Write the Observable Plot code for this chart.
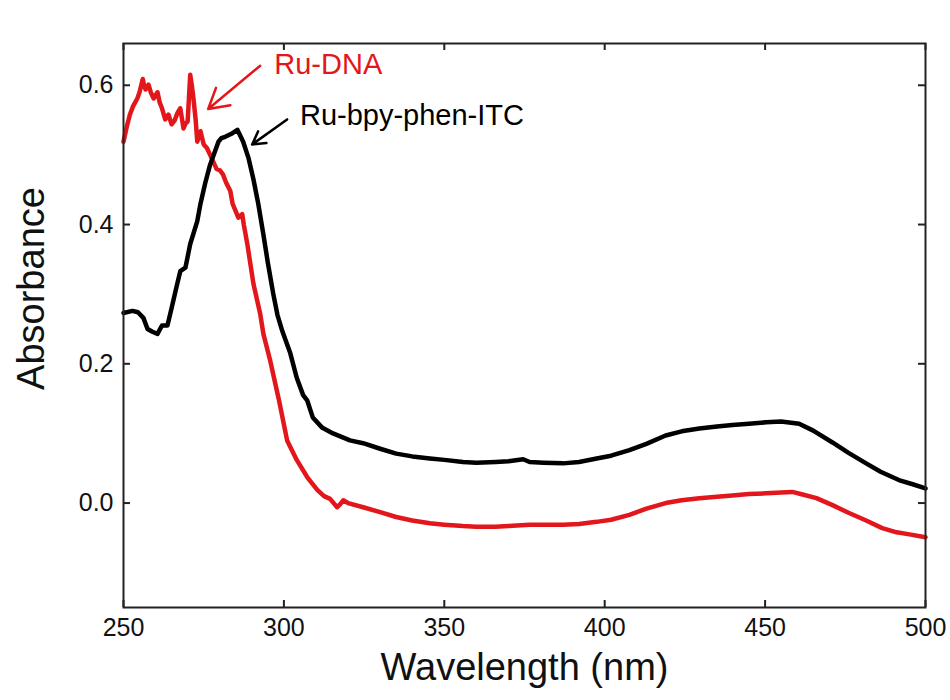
<!DOCTYPE html>
<html>
<head>
<meta charset="utf-8">
<script src="https://cdn.jsdelivr.net/npm/d3@7"></script>
<script src="https://cdn.jsdelivr.net/npm/@observablehq/plot@0.6"></script>
<style>
  html, body { margin: 0; padding: 0; background: #fff; }
</style>
</head>
<body>
<div id="chart"></div>
<script>
// ---- Data ----
const blackWl = [250, 252.8, 254.5, 256.2, 257.5, 259, 260.6, 262, 263.7, 265, 266.5, 267.7, 269.3, 270.8, 273, 274, 275.5, 277, 279.6, 280.5, 281.7, 283.5, 285.5, 287.3, 289, 290.5, 292, 293.6, 295, 296.7, 298, 299.5, 302, 304, 306, 307.3, 309, 312, 315.3, 320.6, 324.7, 330, 335, 340, 345.5, 350, 355.8, 360, 366, 370, 374.6, 376.6, 381, 387, 392, 397.5, 402, 407.7, 413, 419, 424, 429.5, 435, 439.8, 445, 450.3, 455, 460.6, 465, 471, 476, 481.5, 486, 491.7, 496, 500];
const blackAbs = [0.273, 0.276, 0.274, 0.266, 0.25, 0.246, 0.243, 0.255, 0.255, 0.28, 0.31, 0.333, 0.338, 0.372, 0.405, 0.43, 0.46, 0.486, 0.519, 0.524, 0.526, 0.53, 0.536, 0.519, 0.495, 0.465, 0.43, 0.386, 0.345, 0.30, 0.27, 0.247, 0.215, 0.18, 0.155, 0.147, 0.123, 0.108, 0.10, 0.09, 0.086, 0.078, 0.071, 0.067, 0.064, 0.062, 0.059, 0.058, 0.059, 0.060, 0.063, 0.059, 0.058, 0.057, 0.059, 0.064, 0.068, 0.076, 0.085, 0.097, 0.103, 0.107, 0.11, 0.112, 0.114, 0.116, 0.117, 0.114, 0.104, 0.087, 0.072, 0.057, 0.045, 0.033, 0.027, 0.021];

const redWl = [250, 251, 252, 253, 254.3, 255, 256, 256.5, 256.9, 257.8, 258.5, 259.4, 260.6, 261.3, 262, 263, 264, 265, 266, 266.8, 267.7, 268.7, 269.3, 270, 270.5, 270.8, 271.3, 271.8, 272.5, 273, 274, 275, 276, 277, 278, 279, 280, 281, 282, 283.3, 284, 285.8, 287, 287.5, 288.6, 290.5, 292.6, 293.6, 295.7, 298.5, 301, 304, 307.3, 310.4, 312.5, 314.4, 316.6, 317.5, 318.5, 320, 324.7, 330, 335, 340, 345.5, 350, 355.8, 360, 366, 370, 376.6, 381, 387, 392, 397.5, 402, 407.7, 413, 419, 424, 429.5, 435, 439.8, 445, 450.3, 455, 458.5, 462, 466, 471, 476, 481.5, 486.5, 491, 495, 500];
const redAbs = [0.519, 0.54, 0.558, 0.57, 0.581, 0.59, 0.609, 0.598, 0.594, 0.601, 0.59, 0.581, 0.59, 0.575, 0.567, 0.551, 0.558, 0.544, 0.55, 0.56, 0.567, 0.538, 0.545, 0.548, 0.59, 0.615, 0.6, 0.581, 0.55, 0.519, 0.534, 0.515, 0.51, 0.50, 0.49, 0.48, 0.478, 0.472, 0.46, 0.448, 0.43, 0.41, 0.415, 0.40, 0.372, 0.315, 0.272, 0.243, 0.205, 0.147, 0.09, 0.062, 0.037, 0.019, 0.010, 0.006, -0.006, -0.002, 0.004, 0.0, -0.006, -0.013, -0.02, -0.025, -0.029, -0.031, -0.033, -0.034, -0.034, -0.033, -0.031, -0.031, -0.031, -0.03, -0.027, -0.024, -0.017, -0.008, 0.0, 0.004, 0.007, 0.009, 0.011, 0.013, 0.014, 0.015, 0.016, 0.012, 0.007, -0.003, -0.014, -0.025, -0.036, -0.042, -0.045, -0.049];

const xTicks = [250, 300, 350, 400, 450, 500];
const yTicks = [0.0, 0.2, 0.4, 0.6];

const labelText = ["Ru-DNA", "Ru-bpy-phen-ITC"];
const labelX = [297, 305];
const labelY = [0.629, 0.556];
const labelColor = ["#e3161b", "#000000"];

const arrowX1 = [292.6, 301.0];
const arrowY1 = [0.628, 0.551];
const arrowX2 = [276.4, 290.1];
const arrowY2 = [0.566, 0.515];

// ---- Build tables ----
const black = blackWl.map((w, i) => ({wl: w, abs: blackAbs[i]}));
const red = redWl.map((w, i) => ({wl: w, abs: redAbs[i]}));
const labels = labelText.map((t, i) => ({t, x: labelX[i], y: labelY[i], c: labelColor[i]}));
const arrows = arrowX1.map((x1, i) => ({x1, y1: arrowY1[i], x2: arrowX2[i], y2: arrowY2[i], c: labelColor[i]}));

const font = "'Liberation Sans', Arial, Helvetica, sans-serif";
const W = 950, H = 700, mL = 123, mR = 25, mT = 43, mB = 93;
const fw = W - mL - mR, fh = H - mT - mB, tk = 7;

const chart = Plot.plot({
  width: W,
  height: H,
  marginLeft: mL,
  marginRight: mR,
  marginTop: mT,
  marginBottom: mB,
  style: {fontFamily: font, fontSize: "25px", background: "#fff", color: "#111"},
  x: {domain: [250, 500]},
  y: {domain: [-0.15, 0.66]},
  marks: [
    Plot.line(red, {x: "wl", y: "abs", stroke: "#e3161b", strokeWidth: 4.5, strokeLinejoin: "round"}),
    Plot.line(black, {x: "wl", y: "abs", stroke: "#000", strokeWidth: 4.5, strokeLinejoin: "round"}),
    // inward ticks on all four sides
    Plot.ruleX(xTicks, {x: d => d, insetTop: fh - tk, stroke: "#222", strokeWidth: 2}),
    Plot.ruleX(xTicks, {x: d => d, insetBottom: fh - tk, stroke: "#222", strokeWidth: 2}),
    Plot.ruleY(yTicks, {y: d => d, insetRight: fw - tk, stroke: "#222", strokeWidth: 2}),
    Plot.ruleY(yTicks, {y: d => d, insetLeft: fw - tk, stroke: "#222", strokeWidth: 2}),
    Plot.frame({stroke: "#222", strokeWidth: 2}),
    Plot.axisX({anchor: "bottom", ticks: xTicks, tickSize: 0, tickPadding: 11, tickFormat: d3.format("d"), label: null}),
    Plot.axisY({anchor: "left", ticks: yTicks, tickSize: 0, tickPadding: 10, tickFormat: d3.format(".1f"), label: null}),
    Plot.arrow(arrows, {x1: "x1", y1: "y1", x2: "x2", y2: "y2", stroke: "c", strokeWidth: 2.5, headLength: 14, headAngle: 60}),
    Plot.text(labels, {x: "x", y: "y", text: "t", fill: "c", textAnchor: "start", fontSize: 29}),
    Plot.text(["Wavelength (nm)"], {frameAnchor: "bottom", lineAnchor: "bottom", textAnchor: "middle", dy: 72, fontSize: 38, fill: "#111"}),
    Plot.text(["Absorbance"], {frameAnchor: "left", lineAnchor: "bottom", textAnchor: "middle", rotate: -90, dx: -80, dy: -37, fontSize: 38, fill: "#111"})
  ]
});

document.getElementById("chart").appendChild(chart);
</script>
</body>
</html>
